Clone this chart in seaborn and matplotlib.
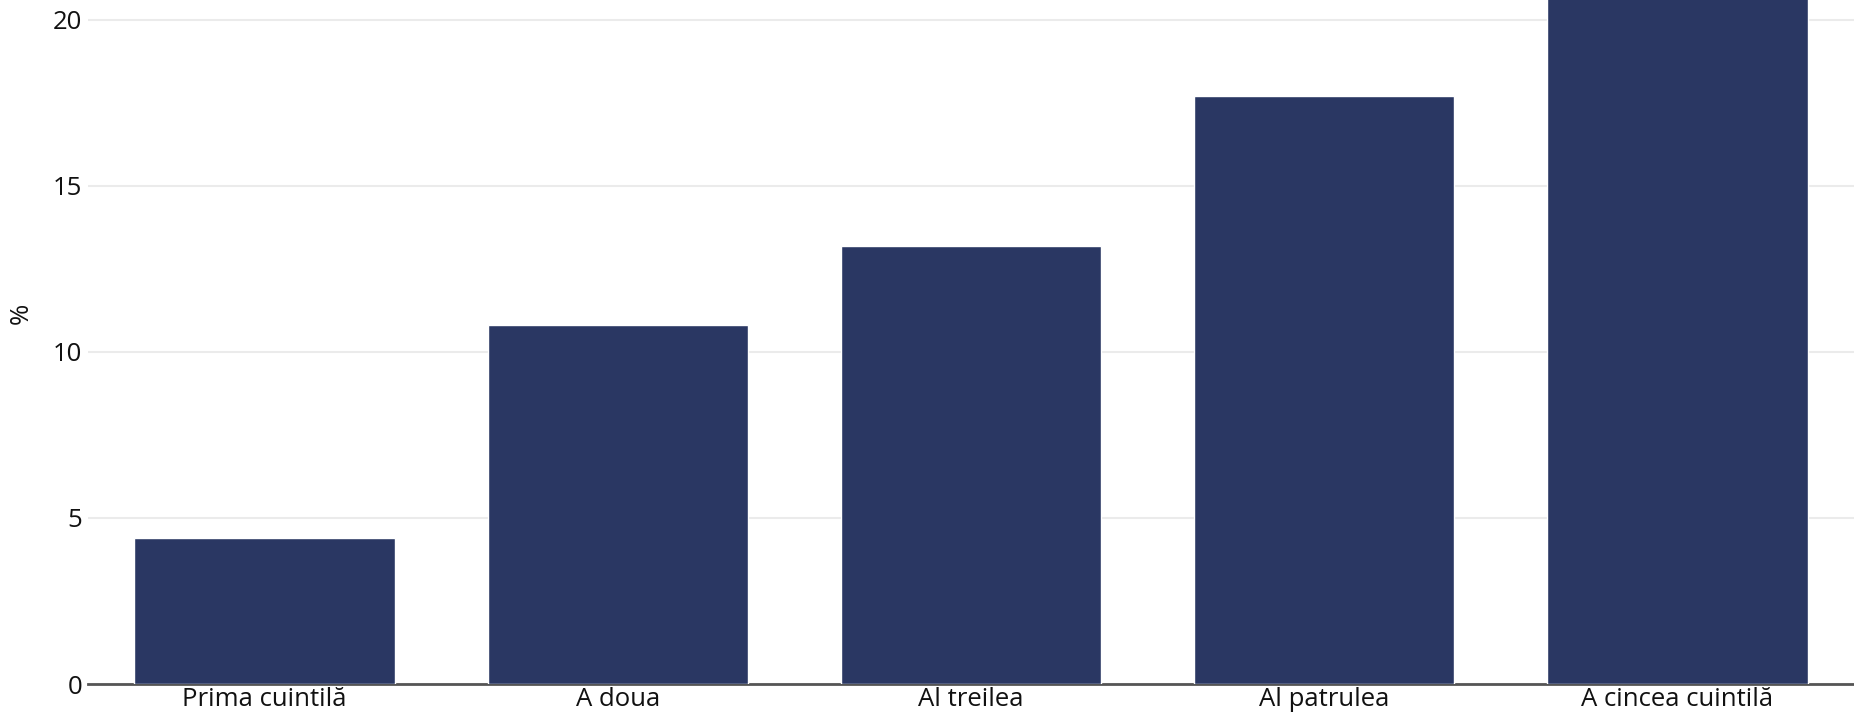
import matplotlib
matplotlib.use("Agg")
import pandas as pd
import matplotlib.pyplot as plt
import seaborn as sns

# quintile categories and their share (%)
categories = ["Prima cuintilă", "A doua", "Al treilea", "Al patrulea", "A cincea cuintilă"]
values = [4.4, 10.8, 13.2, 17.7, 22.0]
y_ticks = [0, 5, 10, 15, 20]

df = pd.DataFrame({"cat": categories, "val": values})

sns.set_style("white")
plt.rcParams['font.family'] = ['Open Sans', 'DejaVu Sans']

fig = plt.figure(figsize=(18.54, 7.17), dpi=100)
ax = fig.add_axes([88 / 1854, 33 / 717, 1 - 88 / 1854, 684 / 717])

sns.barplot(data=df, x="cat", y="val", color="#2a3763", saturation=1,
            width=0.737, ax=ax, zorder=3)

ax.set_ylim(0, 20.6)
ax.set_xlim(-0.5, 4.5)
ax.set_yticks(y_ticks)
ax.yaxis.grid(True, color="#ebebeb", linewidth=1.5, zorder=0)
ax.set_axisbelow(True)

for s in ["top", "right", "left"]:
    ax.spines[s].set_visible(False)
ax.spines["bottom"].set_color("#555555")
ax.spines["bottom"].set_linewidth(2)
ax.spines["bottom"].set_zorder(1)

ax.tick_params(axis="y", length=0, pad=4, labelsize=18.5, labelcolor="#111111")
ax.tick_params(axis="x", length=0, pad=2, labelsize=18.5, labelcolor="#111111")

ax.set_xlabel("")
ax.set_ylabel("%", fontsize=18.5, color="#111111")
ax.yaxis.set_label_coords(-0.031, 0.542)

fig.savefig("out.png", dpi=100)
